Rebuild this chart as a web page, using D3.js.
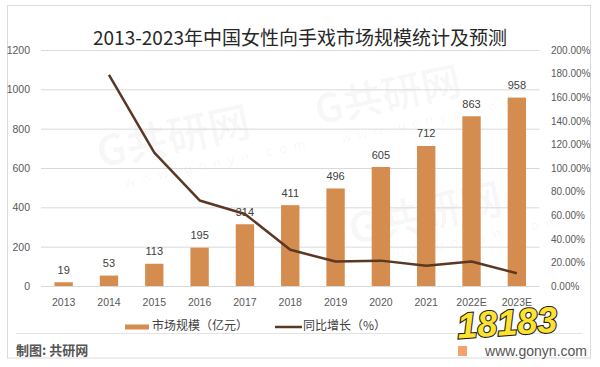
<!DOCTYPE html>
<html><head><meta charset="utf-8">
<script src="https://cdn.jsdelivr.net/npm/d3@7"></script>
<style>body{margin:0;background:#fff} svg{display:block}</style>
</head><body><svg id="c" width="600" height="367"></svg>
<script>
// ---- data ----
const years = ["2013","2014","2015","2016","2017","2018","2019","2020","2021","2022E","2023E"];
const marketSize = [19,53,113,195,314,411,496,605,712,863,958];           // 亿元
const growthRate = [null,179,113,72.5,61,30.7,20.7,21.5,17.2,20.8,10.8];   // %
const leftTicks = [0,200,400,600,800,1000,1200];
const rightTicks = [0,20,40,60,80,100,120,140,160,180,200];
const title = "2013-2023年中国女性向手戏市场规模统计及预测";
const legendLabels = ["市场规模（亿元）","同比增长（%）"];
const footerText = "制图: 共研网";

// ---- style ----
const barColor = "#d48c4f", lineColor = "#5a3823", gridColor = "#d9d9d9", txt = "#595959";
const cjk = "'Noto Sans CJK SC','Noto Sans',sans-serif";
const latin = "'Liberation Sans','DejaVu Sans',sans-serif";

const svg = d3.select("#c");
const L = 41, R = 539.5, T = 50, B = 286;

// frame
svg.append("rect").attr("x",7.5).attr("y",5.5).attr("width",583).attr("height",352.5)
  .attr("fill","#fff").attr("stroke","#d9d9d9");
svg.append("line").attr("x1",16).attr("x2",582).attr("y1",333.5).attr("y2",333.5).attr("stroke","#e3e3e3");

// faint watermarks
const wm = svg.append("g").attr("font-family",cjk).attr("font-weight",700).attr("fill","#000").attr("fill-opacity",0.03);
[[100,168,42],[318,125,40],[352,245,42]].forEach(([x0,y0,s])=>{
  wm.append("text").attr("transform",`translate(${x0},${y0}) rotate(-12)`).attr("font-size",s).text("G共研网");
  wm.append("text").attr("transform",`translate(${x0+s*0.6},${y0+s*0.45}) rotate(-12)`).attr("font-size",s*0.33)
    .attr("font-family",latin).attr("letter-spacing",s*0.15).text("www.gonyn.com");
});

const x = d3.scaleBand().domain(years).range([L,R]).paddingInner(0.595).paddingOuter(0.2975);
const y = d3.scaleLinear().domain([0,1200]).range([B,T]);
const y2 = d3.scaleLinear().domain([0,200]).range([B,T]);

// gridlines
const grid = svg.append("g").attr("transform",`translate(${L},0)`)
  .call(d3.axisLeft(y).tickValues(leftTicks).tickSize(-(R-L)).tickFormat(""));
grid.select(".domain").remove();
grid.selectAll("line").attr("stroke",gridColor);

// left axis
const ax1 = svg.append("g").attr("transform",`translate(${L},0)`)
  .call(d3.axisLeft(y).tickValues(leftTicks).tickSize(0).tickPadding(11).tickFormat(d3.format("d")));
ax1.select(".domain").remove();
ax1.selectAll("text").attr("fill",txt).attr("font-size",10.5).attr("font-family",latin);

// right axis
const ax2 = svg.append("g").attr("transform",`translate(${R},0)`)
  .call(d3.axisRight(y2).tickValues(rightTicks).tickSize(0).tickPadding(11.5).tickFormat(d=>d.toFixed(2)+"%"));
ax2.select(".domain").remove();
ax2.selectAll("text").attr("fill",txt).attr("font-size",10).attr("font-family",latin);

// x axis
const ax3 = svg.append("g").attr("transform",`translate(0,${B})`)
  .call(d3.axisBottom(x).tickSize(0).tickPadding(13));
ax3.select(".domain").remove();
ax3.selectAll("text").attr("fill",txt).attr("font-size",10.5).attr("font-family",latin);

// bars
svg.append("g").selectAll("rect").data(marketSize).join("rect")
  .attr("x",(d,i)=>x(years[i])).attr("width",x.bandwidth())
  .attr("y",d=>y(d)).attr("height",d=>B-y(d)).attr("fill",barColor);

// bar labels
svg.append("g").selectAll("text").data(marketSize).join("text")
  .attr("x",(d,i)=>x(years[i])+x.bandwidth()/2).attr("y",d=>y(d)-8.5)
  .attr("text-anchor","middle").attr("font-size",11).attr("font-family",latin).attr("fill","#404040")
  .text(d=>d);

// line
const pts = growthRate.map((v,i)=>({v,i})).filter(d=>d.v!=null);
svg.append("path").datum(pts)
  .attr("d",d3.line().x(d=>x(years[d.i])+x.bandwidth()/2).y(d=>y2(d.v)))
  .attr("fill","none").attr("stroke",lineColor).attr("stroke-width",2.5).attr("stroke-linejoin","round");

// title
svg.append("text").attr("x",300).attr("y",40).attr("text-anchor","middle").attr("dominant-baseline","middle")
  .attr("font-family",cjk).attr("font-size",19).attr("fill","#262626").text(title);

// legend
const lg = svg.append("g").attr("font-family",cjk).attr("font-size",12).attr("fill","#404040");
lg.append("rect").attr("x",125).attr("y",324.5).attr("width",24).attr("height",5).attr("fill",barColor);
lg.append("text").attr("x",152).attr("y",327).attr("dominant-baseline","middle").text(legendLabels[0]);
lg.append("line").attr("x1",275).attr("x2",302).attr("y1",327).attr("y2",327).attr("stroke",lineColor).attr("stroke-width",2.5);
lg.append("text").attr("x",303).attr("y",327).attr("dominant-baseline","middle").text(legendLabels[1]);

// footer
svg.append("text").attr("x",16).attr("y",351.5).attr("dominant-baseline","middle")
  .attr("font-family",cjk).attr("font-size",13).attr("font-weight",700).attr("fill","#555").text(footerText);
svg.append("rect").attr("x",458).attr("y",346).attr("width",9).attr("height",10).attr("fill","#f08a4b").attr("opacity",0.8);
svg.append("text").attr("x",587).attr("y",352).attr("text-anchor","end").attr("dominant-baseline","middle")
  .attr("font-family",latin).attr("font-size",14).attr("fill","#555").text("www.gonyn.com");

// 18183 badge watermark
const bd = svg.append("g").attr("transform","translate(508,335) rotate(-4)");
bd.append("text").attr("text-anchor","middle").attr("font-family",latin).attr("font-weight",900).attr("font-style","italic")
  .attr("font-size",36).attr("fill","#ffe22e").attr("stroke","#1d1d1d").attr("stroke-width",2.2)
  .attr("paint-order","stroke").text("18183");
</script></body></html>
